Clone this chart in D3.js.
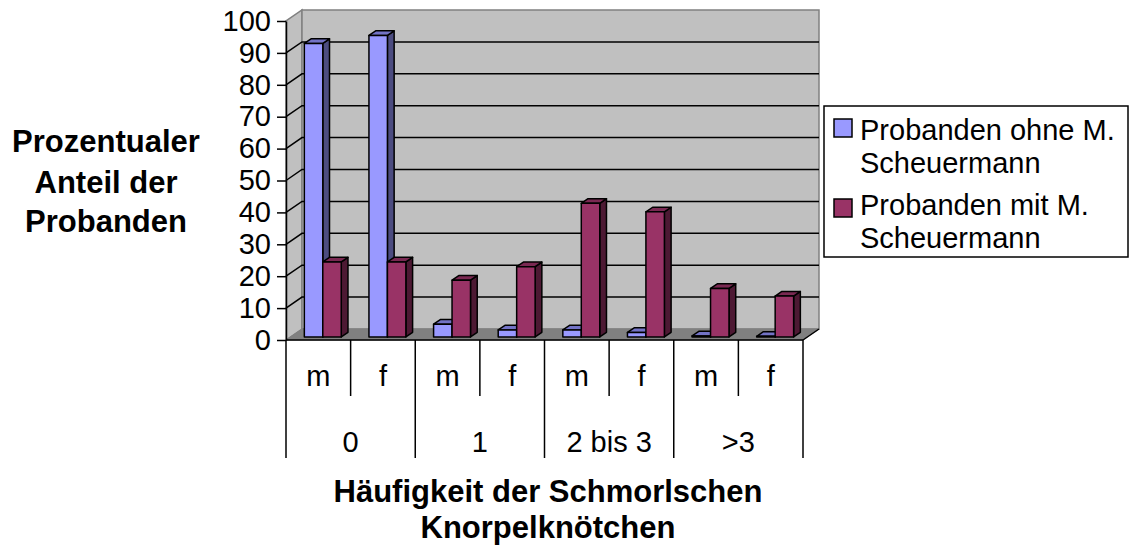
<!DOCTYPE html>
<html>
<head>
<meta charset="utf-8">
<script src="https://cdn.jsdelivr.net/npm/d3@7"></script>
<style>
  html, body { margin: 0; padding: 0; background: #fff; }
  text { font-family: Arial, "Liberation Sans", sans-serif; }
</style>
</head>
<body>
<svg id="chart" width="1130" height="553"></svg>
<script>
// ---------- data ----------
const catGroup = ["0", "0", "1", "1", "2 bis 3", "2 bis 3", ">3", ">3"];
const catSex = ["m", "f", "m", "f", "m", "f", "m", "f"];
const groups = ["0", "1", "2 bis 3", ">3"];
const seriesOhne = [92, 94.5, 4, 2.2, 2.2, 1.4, 0.3, 0.2];
const seriesMit = [23.5, 23.5, 17.8, 22, 41.9, 39.2, 15.2, 12.8];
const seriesNames = ["Probanden ohne M. Scheuermann", "Probanden mit M. Scheuermann"];
const legendLines = [["Probanden ohne M.", "Scheuermann"], ["Probanden mit M.", "Scheuermann"]];
const yTicks = [0, 10, 20, 30, 40, 50, 60, 70, 80, 90, 100];
const yTitle = ["Prozentualer", "Anteil der", "Probanden"];
const xTitle = ["Häufigkeit der Schmorlschen", "Knorpelknötchen"];

// ---------- layout ----------
const svg = d3.select("#chart");
const X0 = 286, X1 = 803;          // front category axis extent
const Y0 = 340, Y100 = 21;         // front value axis extent
const DX = 16, DY = -11;           // 3D depth vector
const y = d3.scaleLinear().domain([0, 100]).range([Y0, Y100]);
const cats = d3.range(catSex.length);
const x = d3.scaleBand().domain(cats).range([X0, X1]).padding(0);
const P = (px, v, f) => [px + DX * f, y(v) + DY * f];
const poly = pts => pts.map(p => p.join(",")).join(" ");

const colors = [
  { front: "#9999FF", top: "#7373C6", side: "#4C4C80" },
  { front: "#993366", top: "#7A2952", side: "#4D1933" }
];

// walls
const wallG = svg.append("g");
wallG.append("polygon") // left wall
  .attr("points", poly([P(X0, 0, 0), P(X0, 100, 0), P(X0, 100, 1), P(X0, 0, 1)]))
  .attr("fill", "#C0C0C0").attr("stroke", "#808080").attr("stroke-width", 1.5);
wallG.append("polygon") // back wall
  .attr("points", poly([P(X0, 0, 1), P(X0, 100, 1), P(X1, 100, 1), P(X1, 0, 1)]))
  .attr("fill", "#C0C0C0").attr("stroke", "#808080").attr("stroke-width", 1.5);
wallG.append("polygon") // floor
  .attr("points", poly([P(X0, 0, 0), P(X1, 0, 0), P(X1, 0, 1), P(X0, 0, 1)]))
  .attr("fill", "#808080").attr("stroke", "#808080").attr("stroke-width", 1);

// gridlines
const gridG = svg.append("g");
yTicks.filter(t => t > 0 && t < 100).forEach(t => {
  gridG.append("polyline")
    .attr("points", poly([P(X0, t, 0), P(X0, t, 1), P(X1, t, 1)]))
    .attr("fill", "none").attr("stroke", "#000").attr("stroke-width", 1.5);
});
// floor right edge
svg.append("line")
  .attr("x1", P(X1, 0, 0)[0]).attr("y1", P(X1, 0, 0)[1])
  .attr("x2", P(X1, 0, 1)[0]).attr("y2", P(X1, 0, 1)[1])
  .attr("stroke", "#000").attr("stroke-width", 1.5);

// bars
const w = x.bandwidth() / 3.5;
const f1 = 0.28, f2 = 0.7;
const barsG = svg.append("g");
cats.forEach(i => {
  [seriesOhne, seriesMit].forEach((series, s) => {
    const v = series[i];
    const bx0 = x(i) + 0.75 * w + s * w, bx1 = bx0 + w;
    const c = colors[s];
    const g = barsG.append("g").attr("stroke", "#000").attr("stroke-width", 1.5).attr("stroke-linejoin", "round");
    g.append("polygon").attr("fill", c.side)
      .attr("points", poly([P(bx1, 0, f1), P(bx1, 0, f2), P(bx1, v, f2), P(bx1, v, f1)]));
    g.append("polygon").attr("fill", c.top)
      .attr("points", poly([P(bx0, v, f1), P(bx1, v, f1), P(bx1, v, f2), P(bx0, v, f2)]));
    g.append("polygon").attr("fill", c.front)
      .attr("points", poly([P(bx0, 0, f1), P(bx1, 0, f1), P(bx1, v, f1), P(bx0, v, f1)]));
  });
});

// y axis
const yAxis = d3.axisLeft(y).tickValues(yTicks).tickSize(9).tickSizeOuter(0).tickPadding(6);
const yG = svg.append("g").attr("transform", `translate(${X0},0)`).call(yAxis);
yG.select(".domain").attr("stroke", "#000").attr("stroke-width", 1.5);
yG.selectAll(".tick line").attr("stroke", "#000").attr("stroke-width", 1.5);
yG.selectAll(".tick text").attr("font-size", 29).attr("fill", "#000")
  .attr("font-family", "Arial, 'Liberation Sans', sans-serif");

// category axis (two tiers)
const xG = svg.append("g").attr("stroke", "#000").attr("stroke-width", 1.5);
xG.append("line").attr("x1", X0).attr("x2", X1).attr("y1", Y0).attr("y2", Y0);
cats.concat([cats.length]).forEach(i => {
  const px = i < cats.length ? x(i) : X1;
  const isGroup = i % 2 === 0;
  xG.append("line").attr("x1", px).attr("x2", px).attr("y1", Y0).attr("y2", isGroup ? 458 : 396);
});
svg.append("g").selectAll("text").data(cats).join("text")
  .attr("x", i => x(i) + x.bandwidth() / 2).attr("y", 386)
  .attr("text-anchor", "middle").attr("font-size", 29).text(i => catSex[i]);
const gx = d3.scaleBand().domain(groups).range([X0, X1]);
svg.append("g").selectAll("text").data(groups).join("text")
  .attr("x", d => gx(d) + gx.bandwidth() / 2).attr("y", 452)
  .attr("text-anchor", "middle").attr("font-size", 29).text(d => d);

// axis titles
svg.append("g").selectAll("text").data(yTitle).join("text")
  .attr("x", 106).attr("y", (d, i) => [152, 193, 232][i])
  .attr("text-anchor", "middle").attr("font-size", 31).attr("font-weight", "bold").text(d => d);
svg.append("g").selectAll("text").data(xTitle).join("text")
  .attr("x", 548).attr("y", (d, i) => [502, 538][i])
  .attr("text-anchor", "middle").attr("font-size", 31).attr("font-weight", "bold").text(d => d);

// legend
const lg = svg.append("g");
lg.append("rect").attr("x", 824).attr("y", 106).attr("width", 304).attr("height", 151)
  .attr("fill", "#fff").attr("stroke", "#000").attr("stroke-width", 1.5);
seriesNames.forEach((name, s) => {
  const top = [119, 199][s];
  lg.append("rect").attr("x", 834).attr("y", top).attr("width", 18).attr("height", 18)
    .attr("fill", colors[s].front).attr("stroke", "#000").attr("stroke-width", 1.5);
  legendLines[s].forEach((line, k) => {
    lg.append("text").attr("x", 860).attr("y", [140, 215][s] + k * 33)
      .attr("font-size", 29).text(line);
  });
});
</script>
</body>
</html>
